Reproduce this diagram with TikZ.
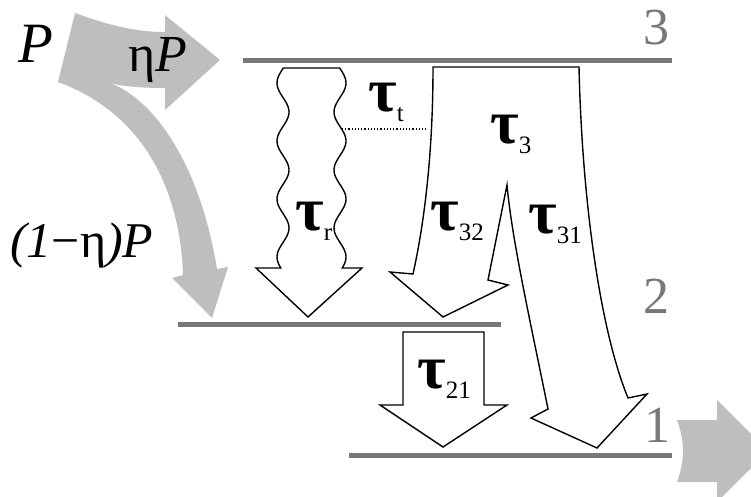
\documentclass[tikz,border=0pt]{standalone}
\usepackage{fontspec}
\setmainfont{Liberation Serif}
\definecolor{pumpgray}{RGB}{190,190,190}
\definecolor{levelgray}{RGB}{120,120,120}
\newcommand{\taulab}[1]{{\fontsize{62}{62}\selectfont\bfseries τ}\raisebox{-10pt}{\fontsize{25}{25}\selectfont #1}}
\begin{document}
\begin{tikzpicture}[x=1pt,y=-1pt,
  level/.style={levelgray,line width=5pt},
  levelnum/.style={levelgray,font=\fontsize{52}{52}\selectfont,anchor=base,inner sep=0pt},
  pump/.style={fill=pumpgray,draw=none},
  decay/.style={fill=white,draw=black,line width=1.4pt,line join=miter},
  lab/.style={anchor=base west,inner sep=0pt}]
\clip (0,0) rectangle (751,497);
\fill[white] (0,0) rectangle (751,497);

\fill[pump] (75,13) .. controls (100,22) and (130,32) .. (165,32) -- (165,15) -- (220,60) -- (165,110) -- (165,88)
  .. controls (145,88) and (125,87) .. (110,83) .. controls (155,100) and (200,165) .. (217,269)
  -- (228,267) -- (212,318) -- (172,278) -- (183,275) .. controls (180,185) and (140,112) .. (58,82) -- cycle;
\fill[pump] (677,420) -- (717,420) -- (717,400) -- (768,451) -- (717,502) -- (717,482) -- (677,482)
  .. controls (685,460) and (685,442) .. (677,420) -- cycle;

\draw[level] (243,61) -- (672,61);
\draw[level] (178,324) -- (501,324);
\draw[level] (349,455) -- (672,455);
\node[levelnum] (n3) at (656,45) {3};
\node[levelnum] (n2) at (656,313) {2};
\node[levelnum] (n1) at (657,442) {1};

\draw[decay] plot[domain=68:268,samples=90] ({340+6*cos(6.2069*(\x-83))},\x) -- (362,268) -- (308,317) -- (256,268)
  -- plot[domain=268:68,samples=90] ({283-6*cos(6.2069*(\x-83))},\x) -- cycle;
\draw[decay] (433,67) -- (579,67) .. controls (582,200) and (600,330) .. (628,398) -- (647,394) -- (597,448) -- (531,418) -- (548,409)
  .. controls (530,320) and (512,240) .. (507,185) -- (488,280) -- (508,285) -- (443,317) -- (390,272) -- (413,274)
  .. controls (425,220) and (433,150) .. (433,67) -- cycle;
\draw[decay] (403,332) -- (484,332) -- (484,405) -- (507,405) -- (443,447) -- (380,405) -- (403,405) -- cycle;
\draw[dotted,line width=1.2pt] (342,129) -- (428,129);

\node[lab] (P) at (18,63) {\fontsize{57}{57}\selectfont\itshape P};
\node[lab] (etaP) at (128,72) {\fontsize{52}{52}\selectfont η\itshape P};
\node[lab] (lossP) at (10,257) {\fontsize{50}{50}\selectfont\itshape (1\textup{−η})P};
\node[lab] (taut) at (368,112) {\taulab{t}};
\node[lab] (taur) at (295,230) {\taulab{r}};
\node[lab] (tau3) at (490,143) {\taulab{3}};
\node[lab] (tau32) at (430,230) {\taulab{32}};
\node[lab] (tau31) at (528,233) {\taulab{31}};
\node[lab] (tau21) at (417,388) {\taulab{21}};
\end{tikzpicture}
\end{document}
